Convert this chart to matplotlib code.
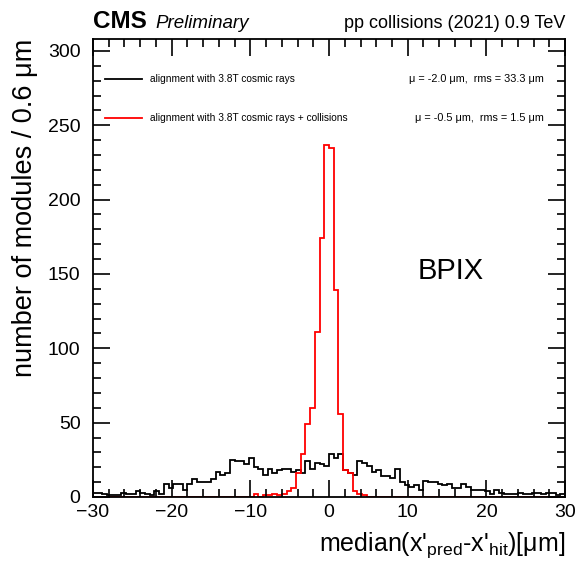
import numpy as np
import matplotlib
matplotlib.use("Agg")
import matplotlib.pyplot as plt
from matplotlib.ticker import MultipleLocator

plt.rcParams['font.family'] = ['Liberation Sans', 'DejaVu Sans']
plt.rcParams['mathtext.fontset'] = 'custom'
plt.rcParams['mathtext.rm'] = 'Liberation Sans'
plt.rcParams['mathtext.it'] = 'Liberation Sans:italic'

# 100 bins of 0.6 um between -30 and 30
bin_edges = np.linspace(-30, 30, 101)

# alignment with 3.8T cosmic rays (black)
cosmics = [3, 3, 2, 1, 1, 1, 3, 2, 2, 4,
           3, 2, 1, 4, 2, 9, 6, 9, 9, 5,
           9, 12, 10, 10, 10, 12, 17, 15, 16, 25,
           24, 24, 22, 26, 20, 19, 15, 19, 16, 18,
           19, 19, 17, 18, 16, 24, 19, 23, 22, 21,
           29, 26, 29, 18, 16, 15, 24, 23, 21, 17,
           18, 14, 14, 13, 19, 10, 8, 7, 8, 5,
           11, 10, 10, 9, 8, 9, 6, 6, 9, 7,
           5, 5, 5, 4, 2, 5, 3, 2, 2, 2,
           3, 2, 2, 3, 3, 2, 3, 3, 1, 2]

# alignment with 3.8T cosmic rays + collisions (red)
collisions = [0, 0, 0, 0, 0, 0, 0, 0, 0, 0,
              0, 0, 0, 0, 0, 0, 0, 0, 0, 0,
              0, 0, 0, 0, 0, 0, 0, 0, 0, 0,
              0, 0, 0, 0, 2, 0, 1, 1, 2, 1,
              2, 4, 6, 16, 29, 49, 60, 111, 174, 237,
              235, 139, 56, 18, 16, 4, 2, 1, 0, 0,
              0, 0, 0, 0, 0, 0, 0, 0, 0, 0,
              0, 0, 0, 0, 0, 0, 0, 0, 0, 0,
              0, 0, 0, 0, 0, 0, 0, 0, 0, 0,
              0, 0, 0, 0, 0, 0, 0, 0, 0, 0]

legend_labels = ["alignment with 3.8T cosmic rays",
                 "alignment with 3.8T cosmic rays + collisions"]
legend_stats = ["μ = -2.0 μm,  rms = 33.3 μm",
                "μ = -0.5 μm,  rms = 1.5 μm"]

fig = plt.figure(figsize=(5.76, 5.65), dpi=100)
ax = fig.add_axes([0.1615, 0.1204, 0.8195, 0.8105])

ax.stairs(cosmics, bin_edges, color='black', linewidth=1.3)
ax.stairs(collisions, bin_edges, color='#ff0000', linewidth=1.3)

ax.set_xlim(-30, 30)
ax.set_ylim(0, 308)

# ROOT style ticks
ax.xaxis.set_major_locator(MultipleLocator(10))
ax.xaxis.set_minor_locator(MultipleLocator(2))
ax.yaxis.set_major_locator(MultipleLocator(50))
ax.yaxis.set_minor_locator(MultipleLocator(10))
ax.tick_params(which='both', direction='in', top=True, right=True, width=1.2)
ax.tick_params(which='major', length=12, labelsize=14)
ax.tick_params(axis='y', which='major', pad=9)
ax.tick_params(axis='x', which='major', pad=5)
ax.tick_params(which='minor', length=6)
for s in ax.spines.values():
    s.set_linewidth(1.3)

ax.set_xlabel("median(x'$_{\\mathrm{pred}}$-x'$_{\\mathrm{hit}}$)[μm]", fontsize=18, loc='right', labelpad=7)
ax.set_ylabel("number of modules / 0.6 μm", fontsize=19.5, loc='top', labelpad=7)

# legend drawn by hand
colors = ['black', '#ff0000']
for i, (lab, st) in enumerate(zip(legend_labels, legend_stats)):
    yy = 0.913 - i * 0.085
    ax.plot([0.025, 0.104], [yy, yy], transform=ax.transAxes, color=colors[i], linewidth=1.3)
    ax.text(0.12, yy, lab, transform=ax.transAxes, fontsize=7.3, va='center')
    ax.text(0.955, yy, st, transform=ax.transAxes, fontsize=7.8, va='center', ha='right')

ax.text(11.3, 152, "BPIX", fontsize=21, va='center')

fig.text(0.1615, 0.951, "CMS", fontsize=17.5, fontweight='bold', va='baseline')
fig.text(0.2700, 0.951, "Preliminary", fontsize=13.5, style='italic', va='baseline')
fig.text(0.981, 0.951, "pp collisions (2021) 0.9 TeV", fontsize=13, va='baseline', ha='right')

fig.savefig("out.png", dpi=100)
